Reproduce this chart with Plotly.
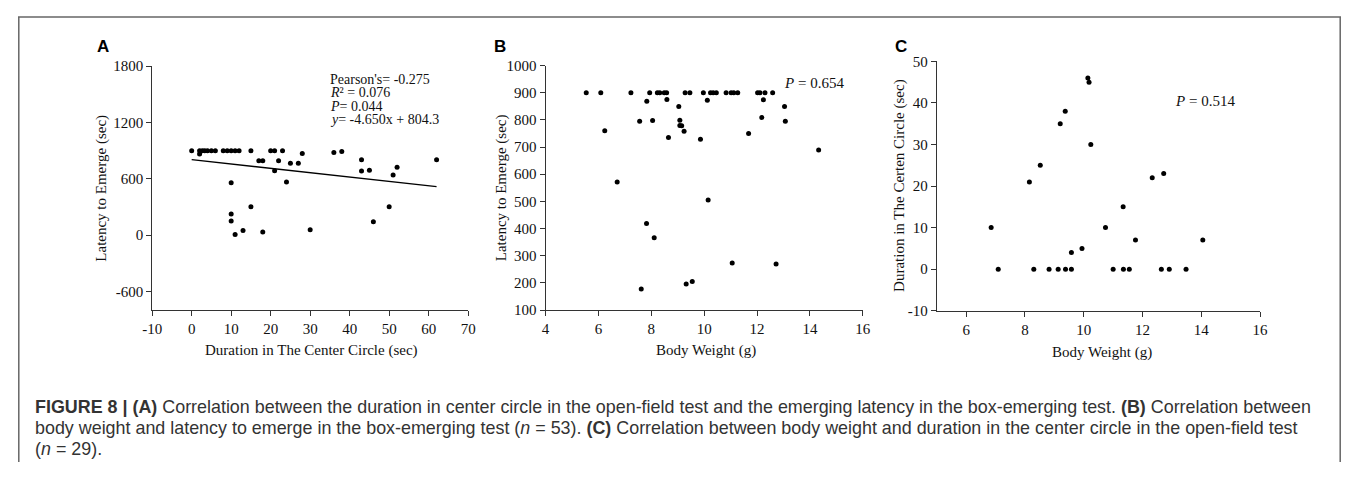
import plotly.graph_objects as go

# ---------------- data ----------------
a_duration = [0, 2, 2, 2.7, 3.3, 4, 5, 6, 8, 9, 10, 11, 12, 10, 10, 10, 11, 13, 15, 15,
              17, 18, 18, 20, 21, 21, 22, 23, 24, 25, 27, 28, 30, 36, 38, 43, 43, 45, 46,
              50, 51, 52, 62]
a_latency = [900, 865, 900, 900, 900, 900, 900, 900, 900, 900, 900, 900, 900, 559, 226, 151,
             5, 50, 900, 302, 792, 792, 34, 900, 900, 686, 792, 900, 566, 766, 766, 869, 58,
             881, 891, 802, 684, 692, 141, 302, 641, 723, 802]
a_slope = -4.650
a_intercept = 804.3
a_fit_x = [0, 62]

b_weight = [5.54, 6.09, 7.23, 7.94, 8.23, 8.32, 8.49, 8.58, 9.28, 9.46, 9.97, 10.24, 10.34,
            10.46, 10.83, 11.02, 11.12, 11.27, 12.02, 12.11, 12.3, 12.59,
            6.24, 6.71, 7.56, 7.83, 7.82, 7.62, 8.05, 8.11, 8.59, 8.65, 9.04, 9.08, 9.08,
            9.15, 9.24, 9.32, 9.55, 9.86, 10.12, 10.15, 11.06, 11.68, 12.18, 12.24, 12.72,
            13.04, 13.07, 14.33]
b_latency = [900] * 22 + [760, 571, 795, 869, 419, 178, 798, 366, 875, 735, 849, 799, 779,
                          778, 758, 196, 205, 729, 872, 505, 273, 750, 809, 874, 270, 849,
                          795, 689]

c_weight = [6.85, 7.09, 8.15, 8.30, 8.52, 8.82, 9.13, 9.20, 9.37, 9.38, 9.58, 9.58, 9.94,
            10.14, 10.18, 10.24, 10.74, 11.0, 11.34, 11.35, 11.55, 11.76, 12.33, 12.64,
            12.72, 12.91, 13.48, 14.05]
c_duration = [10, 0, 21, 0, 25, 0, 0, 35, 38, 0, 4, 0, 5, 46, 45, 30, 10, 0, 15, 0, 0, 7,
              22, 0, 23, 0, 0, 7]

a_xticks = [-10, 0, 10, 20, 30, 40, 50, 60, 70]
a_yticks = [-600, 0, 600, 1200, 1800]
b_xticks = [4, 6, 8, 10, 12, 14, 16]
b_yticks = [100, 200, 300, 400, 500, 600, 700, 800, 900, 1000]
c_xticks = [6, 8, 10, 12, 14, 16]
c_yticks = [-10, 0, 10, 20, 30, 40, 50]

a_stats = ["Pearson's= -0.275", "<i>R</i>² = 0.076", "<i>P</i>= 0.044",
           "<i>y</i>= -4.650x + 804.3"]
b_stats = "<i>P</i> = 0.654"
c_stats = "<i>P</i> = 0.514"

caption_lines = [
    "<b>FIGURE 8 | (A)</b> Correlation between the duration in center circle in the open-field test "
    "and the emerging latency in the box-emerging test. <b>(B)</b> Correlation between",
    "body weight and latency to emerge in the box-emerging test (<i>n</i> = 53). <b>(C)</b> "
    "Correlation between body weight and duration in the center circle in the open-field test",
    "(<i>n</i> = 29).",
]

# ---------------- layout helpers ----------------
# page has an 8px body margin; the figure fills the rest of the 1357x478 window
OFF = 8
W, H = 1357 - 2 * OFF, 478 - 2 * OFF
SERIF = "Liberation Serif, Times New Roman, serif"
SANS = "Liberation Sans, Arial, sans-serif"


def px_x(p):
    return (p - OFF) / W


def px_y(p):
    return 1 - (p - OFF) / H


def lab(vals):
    return [str(v) for v in vals]


fig = go.Figure()
mk = dict(color="black", size=5)
fig.add_trace(go.Scatter(x=a_duration, y=a_latency, mode="markers", marker=mk,
                         xaxis="x", yaxis="y", showlegend=False))
fig.add_trace(go.Scatter(x=a_fit_x, y=[a_slope * v + a_intercept for v in a_fit_x],
                         mode="lines", line=dict(color="black", width=1.4),
                         xaxis="x", yaxis="y", showlegend=False))
fig.add_trace(go.Scatter(x=b_weight, y=b_latency, mode="markers", marker=mk,
                         xaxis="x2", yaxis="y2", showlegend=False))
fig.add_trace(go.Scatter(x=c_weight, y=c_duration, mode="markers", marker=mk,
                         xaxis="x3", yaxis="y3", showlegend=False))

axis_common = dict(showline=True, linecolor="#333", linewidth=1, ticks="outside",
                   ticklen=5, tickwidth=1, tickcolor="#333", showgrid=False,
                   zeroline=False, tickfont=dict(family=SERIF, size=15, color="#111"),
                   fixedrange=True)

fig.update_layout(
    width=W, height=H, margin=dict(l=0, r=0, t=0, b=0),
    paper_bgcolor="white", plot_bgcolor="white",
    xaxis=dict(domain=[px_x(144), px_x(464.3)], range=[-10, 70], tickvals=a_xticks,
               ticktext=lab(a_xticks), anchor="y", **axis_common),
    yaxis=dict(domain=[px_y(312.7), px_y(60)], range=[-800, 1800], tickvals=a_yticks,
               ticktext=lab(a_yticks), anchor="x", **axis_common),
    xaxis2=dict(domain=[px_x(542.7), px_x(864.3)], range=[4, 16], tickvals=b_xticks,
                ticktext=lab(b_xticks), anchor="y2", **axis_common),
    yaxis2=dict(domain=[px_y(312.7), px_y(59.3)], range=[100, 1000], tickvals=b_yticks,
                ticktext=lab(b_yticks), anchor="x2", **axis_common),
    xaxis3=dict(domain=[px_x(939.3), px_x(1267)], range=[5, 16], tickvals=c_xticks,
                ticktext=lab(c_xticks), anchor="y3", **axis_common),
    yaxis3=dict(domain=[px_y(313.3), px_y(55)], range=[-10, 50], tickvals=c_yticks,
                ticktext=lab(c_yticks), anchor="x3", **axis_common),
)

ann = []


def paper_text(x, y, text, size=15, family=SERIF, xanchor="center", angle=0,
               color="#111", yanchor="middle"):
    ann.append(dict(x=px_x(x), y=px_y(y), xref="paper", yref="paper", text=text,
                    showarrow=False, xanchor=xanchor, yanchor=yanchor, textangle=angle,
                    font=dict(family=family, size=size, color=color)))


# panel letters
paper_text(94, 40, "<b>A</b>", size=17, family=SANS, color="black")
paper_text(497, 40, "<b>B</b>", size=17, family=SANS, color="black")
paper_text(903, 40, "<b>C</b>", size=17, family=SANS, color="black")

# axis titles
paper_text(93, 186, "Latency to Emerge (sec)", angle=-90)
paper_text(498, 186, "Latency to Emerge (sec)", angle=-90)
paper_text(902, 184, "Duration in The Certen Circle (sec)", angle=-90)
paper_text(305, 354, "Duration in The Center Circle (sec)")
paper_text(705, 354, "Body Weight (g)")
paper_text(1107, 357, "Body Weight (g)")

# stats text
for i, line in enumerate(a_stats):
    paper_text(322, 73.5 + i * 14, line, size=14, xanchor="left")
paper_text(782, 77, b_stats, xanchor="left")
paper_text(1179, 96, c_stats, xanchor="left")

# caption
for i, line in enumerate(caption_lines):
    paper_text(23, 413 + i * 22, line, size=17.9, family=SANS, xanchor="left", color="#333")

fig.update_layout(annotations=ann)

# figure frame (open at bottom)
frame = dict(xref="paper", yref="paper", line=dict(color="#666", width=1.5))
fig.add_shape(type="line", x0=0, x1=1, y0=px_y(9), y1=px_y(9), **frame)
fig.add_shape(type="line", x0=0.0006, x1=0.0006, y0=px_y(9), y1=0, **frame)
fig.add_shape(type="line", x0=0.9994, x1=0.9994, y0=px_y(9), y1=0, **frame)

fig.write_html("out.html", config={"displayModeBar": False})
